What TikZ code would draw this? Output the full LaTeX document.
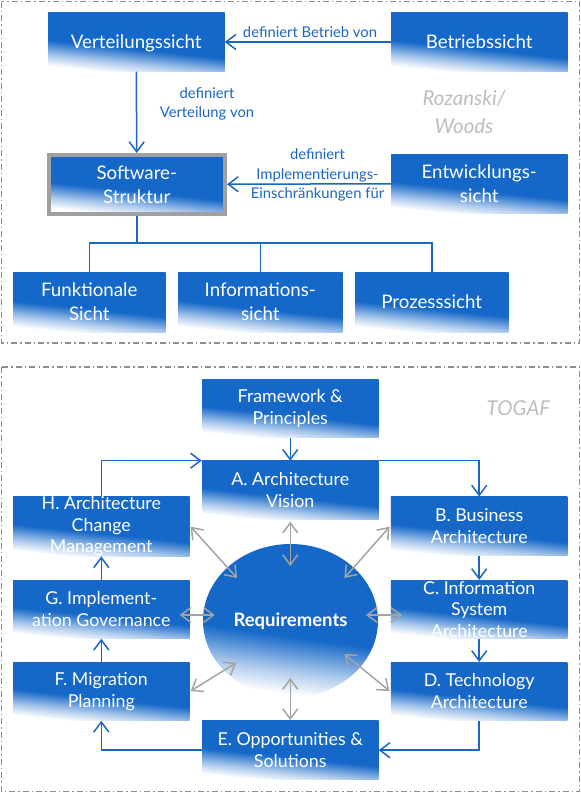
\documentclass[tikz,border=0pt]{standalone}
\usepackage{fontspec}
\setmainfont{Lato}
\usetikzlibrary{arrows.meta,shapes.geometric,calc}
\definecolor{boxblue}{HTML}{1668C8}
\definecolor{arrblue}{HTML}{1A66C4}
\definecolor{arrgray}{HTML}{A3A3A3}
\definecolor{framegray}{HTML}{8E8E8E}
\definecolor{swgray}{HTML}{A0A0A0}
\definecolor{labelgray}{HTML}{BDBDBD}
\pgfdeclareverticalshading{boxshade}{100bp}{color(0bp)=(white); color(26.5bp)=(white); color(34bp)=(boxblue!35!white); color(45bp)=(boxblue); color(100bp)=(boxblue)}
\begin{document}
\begin{tikzpicture}[x=1pt,y=-1pt,
  box/.style={rectangle, inner sep=0pt, shading=boxshade, shading angle=-6, text=white, align=center},
  topbox/.style={box, minimum width=176.5pt, minimum height=59pt, text depth=0pt, font=\fontsize{18.7}{24}\selectfont},
  botbox/.style={box, minimum width=176.5pt, minimum height=58.5pt, font=\fontsize{17.8}{21.8}\selectfont},
  lbl/.style={inner sep=0pt, text=arrblue, align=center, font=\fontsize{14.8}{19.5}\selectfont},
  authorlbl/.style={inner sep=0pt, text=labelgray, align=center, font=\itshape\fontsize{20.5}{28}\selectfont},
  panel/.style={draw=framegray, line width=1.5pt, dash pattern=on 6pt off 3pt on 1.5pt off 3pt},
  barr/.style={draw=arrblue, line width=1.5pt, -{Straight Barb[length=10pt,width=15pt]}},
  bline/.style={draw=arrblue, line width=1.5pt},
  garr/.style={draw=arrgray, line width=1.5pt, {Straight Barb[length=10pt,width=15pt]}-{Straight Barb[length=10pt,width=15pt]}}
]
\useasboundingbox (0,0) rectangle (581,793);
% ---------- top panel ----------
\draw[panel] (1.5,1.5) rectangle (579.5,343);
\node[topbox] (vs) at (136.25,42) {Verteilungssicht};
\node[topbox] (bs) at (479.25,42) {Betriebssicht};
\node[topbox, draw=swgray, line width=4pt, minimum height=58.5pt] (sw) at (136.75,184.25) {Software-\\Struktur};
\node[topbox, minimum height=58.5pt] (es) at (479.25,183.75) {Entwicklungs-\\sicht};
\node[topbox, minimum width=152.5pt, minimum height=60pt] (fs) at (89.25,302) {Funktionale\\Sicht};
\node[topbox, minimum width=164.6pt, minimum height=60pt] (is) at (260.3,302) {Informations-\\sicht};
\node[topbox, minimum width=153.5pt, minimum height=60pt] (ps) at (431.75,302) {Prozesssicht};
\node[lbl] (l1) at (310,32.5) {definiert Betrieb von};
\node[lbl] (l2) at (207,104) {definiert\\Verteilung von};
\node[lbl] (l3) at (317.5,175) {definiert\\Implementierungs-\\Einschränkungen für};
\node[authorlbl] (rw) at (464,112) {Rozanski/\\Woods};
\draw[barr] (bs.west) -- (vs.east);
\draw[barr] (vs.south) -- (sw.north);
\draw[barr] (es.west) -- (sw.east);
\coordinate (tj) at (136.75,243);
\draw[bline] (sw.south) -- (tj);
\draw[bline] (fs.north) |- (tj) -| (ps.north);
\draw[bline] (is.north) -- (is.north |- tj);
% ---------- bottom panel ----------
\draw[panel] (1.5,367) rectangle (579.5,791.5);
\node[authorlbl] (tg) at (518.5,407.7) {TOGAF};
\node[botbox] (fp) at (290.25,408.35) {Framework \&\\Principles};
\node[botbox] (a) at (290.25,490.15) {A. Architecture\\Vision};
\node[botbox, minimum height=59pt] (b) at (479.2,526.2) {B. Business\\Architecture};
\node[botbox, minimum height=59pt] (h) at (101.3,526.2) {H. Architecture\\Change\\Management};
\node[botbox] (c) at (479.2,609.35) {C. Information\\System\\Architecture};
\node[botbox] (g) at (101.3,609.35) {G. Implement-\\ation Governance};
\node[botbox] (d) at (479.2,691.35) {D. Technology\\Architecture};
\node[botbox] (f) at (101.3,691.35) {F. Migration\\Planning};
\node[botbox] (e) at (290.25,750.15) {E. Opportunities \&\\Solutions};
\node[ellipse, inner sep=0pt, shading=boxshade, shading angle=-8, minimum width=175pt, minimum height=153.4pt, text=white, font=\bfseries\fontsize{18.5}{22}\selectfont] (rq) at (290.5,620.7) {Requirements};
\draw[barr] (fp.south) -- (a.north);
\draw[barr] (h.north) |- (a.north west);
\draw[barr] (a.north east) -| (b.north);
\draw[barr] (b.south) -- (c.north);
\draw[barr] (c.south) -- (d.north);
\draw[barr] (d.south) |- (e.east);
\draw[barr] (e.west) -| (f.south);
\draw[barr] (f.north) -- (g.south);
\draw[barr] (g.north) -- (h.south);
% gray double arrows
\coordinate (ga1) at (290.25,521.7); \coordinate (ga2) at (290.25,566);
\coordinate (ge1) at (290.25,720);   \coordinate (ge2) at (290.25,678);
\coordinate (gg1) at (179.6,615);    \coordinate (gg2) at (214.8,615);
\coordinate (gc1) at (402,615);      \coordinate (gc2) at (366,615);
\coordinate (gh1) at (190.7,526.7);  \coordinate (gh2) at (237,578);
\coordinate (gb1) at (389.6,526.7);  \coordinate (gb2) at (344.4,578);
\coordinate (gf1) at (190.7,691);    \coordinate (gf2) at (236.3,662.7);
\coordinate (gd1) at (389.6,691);    \coordinate (gd2) at (344.4,654);
\draw[garr] (ga1) -- (ga2);
\draw[garr] (ge1) -- (ge2);
\draw[garr] (gg1) -- (gg2);
\draw[garr] (gc1) -- (gc2);
\draw[garr] (gh1) -- (gh2);
\draw[garr] (gb1) -- (gb2);
\draw[garr] (gf1) -- (gf2);
\draw[garr] (gd1) -- (gd2);
\end{tikzpicture}
\end{document}
